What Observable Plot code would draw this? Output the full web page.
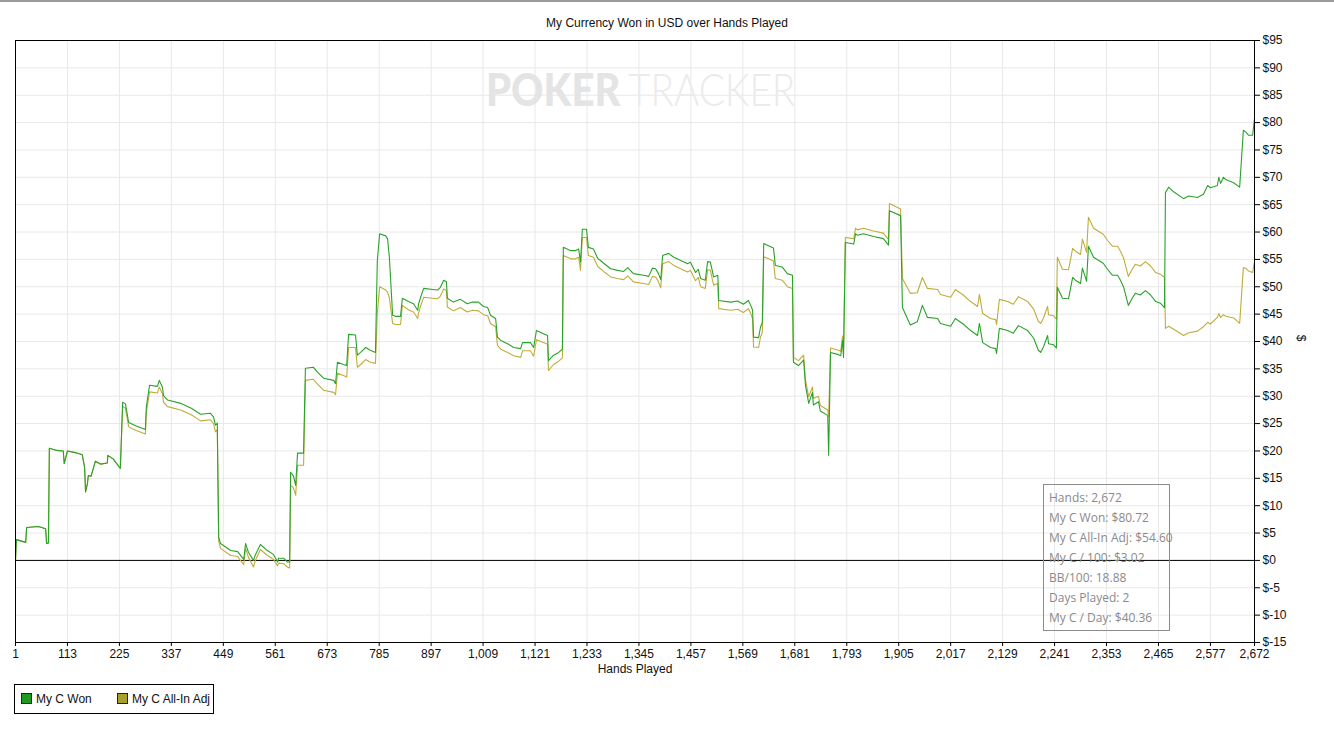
<!DOCTYPE html>
<html>
<head>
<meta charset="utf-8">
<script src="https://cdn.jsdelivr.net/npm/d3@7"></script>
<script src="https://cdn.jsdelivr.net/npm/@observablehq/plot@0.6"></script>
<style>
  html, body { margin: 0; padding: 0; background: #fff; }
  body { width: 1334px; height: 730px; position: relative; overflow: hidden; font-family: "Liberation Sans", Arial, sans-serif; }
  #title { box-sizing: border-box; height: 34px; border-top: 2px solid #9a9a9a; padding-top: 13px; line-height: 16px; font-size: 12px; text-align: center; color: #111; }
  #chart svg { display: block; }
  .wm { position: absolute; top: 64px; font-family: Lato, "Open Sans", sans-serif; font-size: 45px; line-height: 50px; white-space: nowrap; transform-origin: 0 50%; }
  #wm1 { left: 486px; font-weight: 900; color: #e4e4e4; transform: scaleX(0.89); }
  #wm2 { left: 628px; font-weight: 300; color: #ebebeb; transform: scaleX(0.86); }
  #stats { position: absolute; left: 1043px; top: 484px; width: 127px; height: 147px; border: 1px solid #8c8c8c; font-family: "Open Sans", "Noto Sans", sans-serif; font-size: 12px; color: #8a8a8a; padding: 3px 0 0 5px; box-sizing: border-box; }
  #stats div { height: 20px; line-height: 19px; white-space: nowrap; }
  #legend { position: absolute; left: 14px; top: 684px; width: 200px; height: 30px; border: 1px solid #000; box-sizing: border-box; font-size: 12px; color: #111; }
  #legend .item { position: absolute; top: 8px; line-height: 12px; white-space: nowrap; }
  #legend .sw { display: inline-block; width: 9px; height: 9px; border: 1px solid #222; vertical-align: -1px; margin-right: 4px; }
</style>
</head>
<body>
<div id="title"></div>
<div id="chart"></div>
<div class="wm" id="wm1">POKER</div>
<div class="wm" id="wm2">TRACKER</div>
<div id="stats"></div>
<div id="legend"></div>
<script>
const titleText = "My Currency Won in USD over Hands Played";
const xLabel = "Hands Played";
const yLabel = "$";
const seriesNames = ["My C Won", "My C All-In Adj"];
const seriesColors = ["#2aa22a", "#bfad3a"];
const swatchColors = ["#1e9a1e", "#a8a02a"];
const xTicks = [1, 113, 225, 337, 449, 561, 673, 785, 897, 1009, 1121, 1233, 1345, 1457, 1569, 1681, 1793, 1905, 2017, 2129, 2241, 2353, 2465, 2577, 2672];
const yTicks = [-15, -10, -5, 0, 5, 10, 15, 20, 25, 30, 35, 40, 45, 50, 55, 60, 65, 70, 75, 80, 85, 90, 95];
const statsLines = ["Hands: 2,672", "My C Won: $80.72", "My C All-In Adj: $54.60", "My C / 100: $3.02", "BB/100: 18.88", "Days Played: 2", "My C / Day: $40.36"];

const hands = [
  1, 3, 23, 25, 50, 66, 68, 72, 74, 90, 104, 106, 113, 130, 145, 150, 152, 156, 158, 164, 173, 184, 199, 200, 212, 227,
  232, 238, 245, 260, 281, 283, 290, 307, 311, 318, 320, 329, 357, 380, 400, 421, 428, 432, 436,
  439, 443, 465, 480, 493, 497, 503, 514, 518, 529, 544, 557, 566, 568, 579, 587, 592,
  594, 600, 605, 609, 622, 626, 643, 652, 665, 687, 691, 695, 708, 715, 719, 734, 738, 745, 756, 766, 777,
  781, 786, 799, 803, 807, 814, 820, 831, 835, 848, 859, 868, 870, 874, 881, 900, 911, 917, 924, 930, 932,
  945, 960, 975, 986, 999, 1010, 1019, 1025, 1036, 1040, 1047, 1062, 1075, 1090, 1094, 1111, 1118, 1124, 1139, 1148,
  1150, 1161, 1172, 1180, 1182, 1198, 1208, 1215, 1219, 1223, 1232, 1236, 1247, 1256, 1262, 1269, 1284, 1299, 1312,
  1321, 1333, 1355, 1366, 1374, 1381, 1387, 1392, 1396, 1409, 1420, 1435, 1450, 1456, 1467, 1473, 1478, 1488, 1493,
  1499, 1506, 1515, 1517, 1543, 1558, 1570, 1581, 1586, 1590, 1592, 1603, 1607, 1611, 1614, 1622, 1635, 1639, 1654,
  1665, 1676, 1678, 1689, 1700, 1704, 1711, 1719, 1721, 1732, 1736, 1752, 1754, 1758, 1775, 1780, 1784, 1786,
  1790, 1808, 1812, 1816, 1829, 1851, 1872, 1883, 1885, 1909, 1913, 1930, 1945, 1956, 1967, 1989, 1995, 2017, 2027,
  2044, 2060, 2075, 2079, 2086, 2103, 2114, 2116, 2122, 2140, 2152, 2163, 2183, 2196, 2206, 2211, 2217, 2226, 2228,
  2239, 2245, 2247, 2258, 2271, 2280, 2286, 2297, 2301, 2310, 2314, 2325, 2346, 2355, 2366, 2377, 2383, 2390, 2400,
  2409, 2415, 2426, 2437, 2448, 2459, 2469, 2478, 2480, 2487, 2497, 2519, 2530, 2549, 2562, 2571, 2577, 2592, 2595,
  2599, 2605, 2610, 2627, 2640, 2648, 2653, 2659, 2668, 2672
];

const wonValues = [
  0, 3.8, 3.3, 6.0, 6.2, 5.8, 3.1, 3.2, 20.5, 20.1, 20.0, 17.7, 20.0, 19.7, 19.3, 17.0, 12.5, 14.0, 15.5, 15.4, 18.1, 17.6, 17.8, 19.2, 18.5, 16.8,
  28.9, 28.6, 25.2, 24.6, 23.9, 28.0, 32.0, 31.8, 32.9, 31.6, 30.1, 29.3, 28.7, 27.8, 26.7, 26.9, 26.2, 24.7, 25.1,
  4.2, 3.1, 1.8, 1.6, 0.2, 3.1, 1.5, 0.0, 1.0, 2.9, 1.8, 1.1, -0.3, 0.4, 0.4, -0.3, -0.3,
  16.1, 15.5, 13.7, 19.6, 19.6, 35.1, 35.3, 34.4, 33.3, 32.9, 32.3, 36.2, 35.8, 35.6, 41.3, 41.2, 37.5, 38.0, 38.9, 38.4, 38.0,
  54.8, 59.7, 59.3, 58.8, 55.4, 44.8, 44.6, 44.6, 47.9, 47.3, 46.9, 45.7, 46.9, 48.0, 49.7, 49.5, 49.4, 49.9, 51.2, 50.9, 47.9,
  47.2, 47.7, 46.9, 47.2, 47.2, 46.4, 46.2, 44.8, 44.2, 40.8, 40.2, 39.6, 38.9, 38.7, 39.8, 39.8, 38.9, 42.0, 41.4, 41.1,
  36.5, 37.5, 38.0, 38.6, 57.2, 56.6, 56.6, 56.9, 54.5, 60.5, 60.5, 57.2, 56.9, 55.2, 54.8, 54.3, 53.3, 53.0, 52.8,
  53.5, 52.4, 52.1, 51.9, 53.4, 53.3, 52.4, 51.3, 55.7, 56.1, 55.4, 54.8, 54.2, 54.5, 52.6, 53.2, 51.5, 51.2, 54.6,
  54.5, 51.8, 52.1, 47.5, 47.2, 47.4, 46.8, 47.5, 46.6, 45.7, 40.8, 40.7, 42.6, 43.5, 57.9, 57.6, 57.1, 53.9, 53.6,
  52.4, 52.1, 36.2, 35.6, 36.6, 32.0, 28.7, 30.7, 28.4, 29.0, 27.3, 26.5, 19.2, 38.0, 37.6, 37.4, 40.2, 37.1,
  58.1, 57.8, 59.7, 59.4, 59.7, 59.2, 58.8, 57.6, 63.9, 63.0, 46.2, 43.0, 43.6, 46.6, 44.4, 44.2, 43.3, 42.8, 44.2,
  43.2, 42.0, 41.1, 43.3, 39.8, 38.9, 38.7, 37.8, 42.4, 42.0, 41.5, 42.9, 42.0, 40.6, 38.4, 38.0, 39.0, 41.1, 39.6,
  39.4, 38.8, 49.9, 47.9, 47.8, 51.7, 51.2, 50.6, 53.4, 51.0, 57.4, 55.4, 54.3, 53.2, 52.1, 52.1, 51.2, 49.9, 46.6,
  48.0, 48.8, 48.5, 49.3, 48.5, 47.3, 47.0, 46.2, 67.2, 68.2, 67.4, 66.1, 66.6, 66.3, 66.9, 68.5, 68.1, 68.5, 70.0,
  68.9, 70.0, 69.6, 69.0, 68.2, 78.6, 78.3, 77.7, 77.7, 80.72
];

const adjValues = [
  0, 3.8, 3.3, 6.0, 6.2, 5.8, 3.1, 3.2, 20.5, 20.1, 20.0, 17.7, 20.0, 19.7, 19.3, 17.0, 12.5, 14.0, 15.5, 15.4, 18.1, 17.6, 17.8, 19.2, 18.5, 16.8,
  28.1, 27.8, 24.4, 23.8, 23.1, 27.0, 30.8, 30.6, 31.7, 30.4, 28.9, 28.1, 27.5, 26.6, 25.5, 25.7, 25.0, 23.5, 23.9,
  3.5, 2.2, 0.9, 0.7, -0.8, 2.2, 0.6, -1.2, 0.0, 2.0, 0.9, 0.2, -1.0, -0.5, -0.6, -1.2, -1.4,
  13.7, 13.3, 11.9, 17.4, 17.4, 32.9, 33.1, 32.2, 31.1, 30.7, 30.3, 34.2, 33.8, 33.5, 38.9, 38.9, 35.3, 35.8, 36.7, 36.2, 36.0,
  45.1, 50.0, 49.4, 49.0, 48.0, 43.3, 43.1, 43.1, 46.6, 45.8, 45.4, 44.2, 45.3, 46.4, 48.1, 47.9, 47.8, 48.3, 49.6, 49.3, 46.3,
  45.6, 46.2, 45.4, 45.7, 45.6, 44.9, 44.7, 43.3, 42.7, 39.3, 38.6, 38.0, 37.4, 37.1, 38.3, 38.3, 37.3, 40.3, 39.8, 39.5,
  34.7, 35.8, 36.4, 37.0, 55.7, 55.1, 55.1, 55.4, 53.0, 59.0, 59.0, 55.7, 55.4, 53.7, 53.3, 52.8, 51.8, 51.5, 51.3,
  52.0, 50.9, 50.6, 50.4, 51.9, 51.8, 50.9, 49.8, 54.2, 54.6, 53.9, 53.3, 52.7, 53.0, 51.1, 51.7, 50.0, 49.7, 53.1,
  53.0, 50.3, 50.6, 46.0, 45.7, 45.9, 45.3, 46.0, 45.1, 44.2, 39.0, 38.9, 40.8, 41.7, 55.5, 55.2, 54.7, 51.5, 51.2,
  50.0, 49.7, 37.1, 36.5, 37.5, 33.0, 29.9, 31.7, 29.6, 30.0, 28.3, 27.5, 26.2, 38.8, 38.4, 38.2, 41.0, 38.0,
  59.0, 58.8, 60.7, 60.4, 60.7, 60.2, 59.8, 58.6, 65.2, 64.2, 51.5, 48.8, 48.9, 51.7, 49.7, 49.5, 48.6, 48.1, 49.5,
  48.5, 47.3, 46.4, 48.6, 45.1, 44.2, 44.0, 43.1, 47.7, 47.3, 46.8, 48.2, 47.3, 45.9, 43.7, 43.3, 44.3, 46.4, 44.9,
  44.7, 44.1, 55.4, 53.2, 53.1, 57.0, 56.5, 55.9, 58.7, 56.3, 62.7, 60.7, 59.6, 58.5, 57.4, 57.4, 56.5, 55.2, 51.9,
  53.3, 54.1, 53.8, 54.6, 53.8, 52.6, 52.3, 51.7, 42.4, 42.8, 42.3, 41.1, 41.6, 41.9, 42.7, 43.5, 43.2, 44.4, 45.1,
  44.4, 44.9, 44.6, 44.3, 43.3, 53.5, 53.4, 52.9, 52.6, 54.60
];

document.getElementById("title").textContent = titleText;
document.getElementById("stats").innerHTML = statsLines.map(s => `<div>${s}</div>`).join("");
document.getElementById("legend").innerHTML = seriesNames.map((n, i) =>
  `<span class="item" style="left:${i === 0 ? 6 : 102}px"><span class="sw" style="background:${swatchColors[i]}"></span>${n}</span>`).join("");

const rows = hands.map((h, i) => ({hand: h, won: wonValues[i], adj: adjValues[i]}));

const chart = Plot.plot({
  width: 1334,
  height: 650,
  marginTop: 6,
  marginBottom: 42,
  marginLeft: 15,
  marginRight: 80,
  style: {fontFamily: "'Liberation Sans', Arial, sans-serif", fontSize: "12px", color: "#111", background: "transparent"},
  x: {domain: [1, 2672]},
  y: {domain: [-15, 95]},
  marks: [
    Plot.gridX(xTicks, {stroke: "#e8e8e8", strokeOpacity: 1}),
    Plot.gridY(yTicks, {stroke: "#e8e8e8", strokeOpacity: 1}),
    Plot.ruleY([0], {stroke: "#000", strokeWidth: 1}),
    Plot.line(rows, {x: "hand", y: "adj", stroke: seriesColors[1], strokeWidth: 1.1}),
    Plot.line(rows, {x: "hand", y: "won", stroke: seriesColors[0], strokeWidth: 1.1}),
    Plot.frame({stroke: "#000"}),
    Plot.axisX(xTicks, {tickFormat: d3.format(","), tickSize: 4, tickPadding: 3, label: null, stroke: "#000"}),
    Plot.axisY(yTicks, {anchor: "right", tickFormat: d => "$" + d, tickSize: 5, tickPadding: 3, label: null, stroke: "#000"}),
    Plot.text([xLabel], {frameAnchor: "bottom", dy: 30, fontSize: 12, fill: "#111"}),
    Plot.text([yLabel], {frameAnchor: "right", dx: 46, rotate: 90, fontSize: 12, fill: "#111"})
  ]
});
document.getElementById("chart").appendChild(chart);
</script>
</body>
</html>
